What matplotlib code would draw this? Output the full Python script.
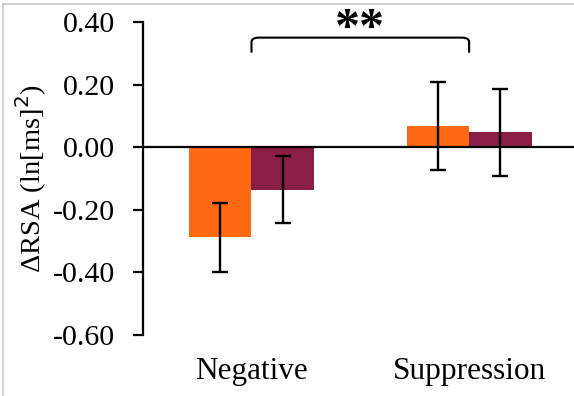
import numpy as np
import matplotlib
matplotlib.use('Agg')
import matplotlib.pyplot as plt
from matplotlib.lines import Line2D
from matplotlib.path import Path
from matplotlib.patches import PathPatch

plt.rcParams['font.family'] = ['Liberation Serif', 'DejaVu Serif']

# condition means and error bar half-widths
conditions = ['Negative', 'Suppression']
orange_vals = [-0.288, 0.068]
orange_err = [0.111, 0.140]
maroon_vals = [-0.135, 0.048]
maroon_err = [0.106, 0.139]
yticks = [-0.60, -0.40, -0.20, 0.00, 0.20, 0.40]

orange = '#FF6A13'
maroon = '#8B1E45'

fig = plt.figure(figsize=(5.74, 3.96), dpi=100)
ax = fig.add_axes([0.2486, 0.154, 0.7582, 0.7897])

x = np.arange(len(conditions))
w = 0.287
ax.bar(x - w / 2, orange_vals, w, color=orange, zorder=2)
ax.bar(x + w / 2, maroon_vals, w, color=maroon, zorder=2)
ax.errorbar(x - w / 2, orange_vals, yerr=orange_err, fmt='none', ecolor='black',
            elinewidth=1.7, capsize=5.5, capthick=1.7, zorder=3)
ax.errorbar(x + w / 2, maroon_vals, yerr=maroon_err, fmt='none', ecolor='black',
            elinewidth=1.7, capsize=5.5, capthick=1.7, zorder=3)

ax.axhline(0, color='black', lw=1.6, zorder=4)

ax.set_xlim(-0.5, 1.5)
ax.set_ylim(-0.60, 0.40)
ax.set_yticks(yticks)
ax.set_yticklabels(['%.2f' % v for v in yticks], fontsize=21.5)
ax.set_xticks(x)
ax.set_xticklabels(conditions, fontsize=22.5)
ax.tick_params(axis='x', length=0, pad=16)
ax.tick_params(axis='y', length=7, width=1.6, direction='out', pad=13)
for s in ['top', 'right', 'bottom']:
    ax.spines[s].set_visible(False)
ax.spines['left'].set_linewidth(1.6)
ax.set_ylabel('ΔRSA (ln[ms]$^2$)', fontsize=20.5, labelpad=3)

# significance bracket between the two conditions
y0, y1, r = 0.303, 0.351, 0.014
verts = [(0, y0), (0, y1 - r), (0, y1), (0.035, y1),
         (1 - 0.035, y1), (1, y1), (1, y1 - r), (1, y0)]
codes = [Path.MOVETO, Path.LINETO, Path.CURVE3, Path.CURVE3,
         Path.LINETO, Path.CURVE3, Path.CURVE3, Path.LINETO]
ax.add_patch(PathPatch(Path(verts, codes), fill=False, lw=1.5,
                       edgecolor='black', clip_on=False))
ax.text(0.5, 0.375, '**', ha='center', va='center', fontsize=36,
        fontweight='bold', clip_on=False)

# thin grey frame lines along top and left edges
fig.add_artist(Line2D([0.0055, 0.0055], [0, 0.99], color='#c8c8c8', lw=1.2,
                      transform=fig.transFigure))
fig.add_artist(Line2D([0.0055, 1], [0.99, 0.99], color='#c8c8c8', lw=1.2,
                      transform=fig.transFigure))

fig.savefig('out.png', dpi=100)
